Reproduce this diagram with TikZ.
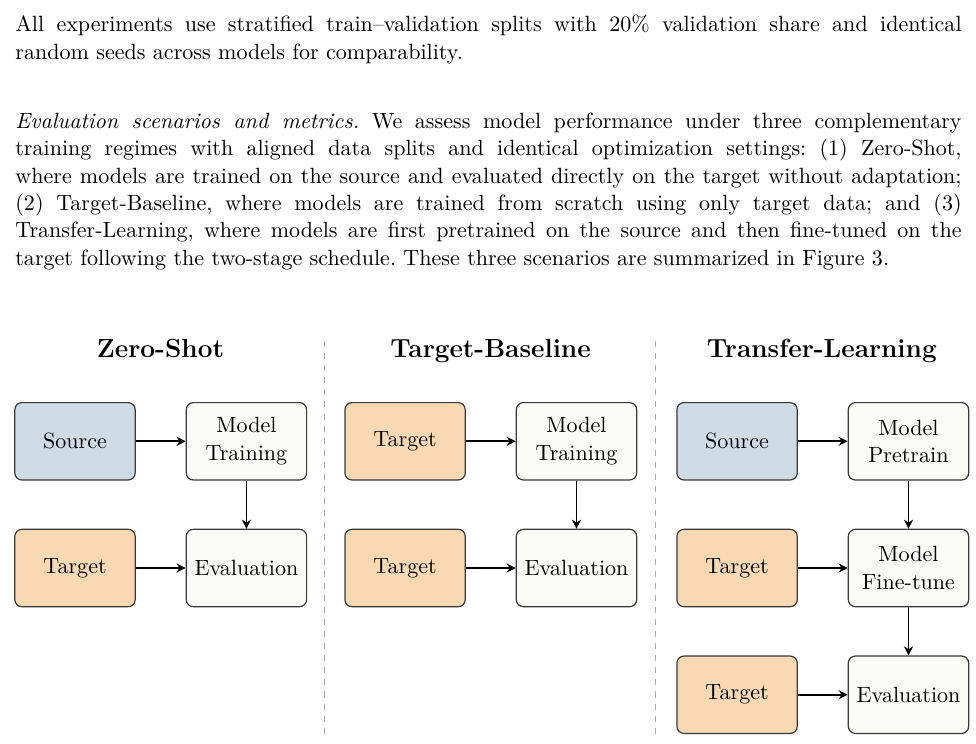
\documentclass[tikz,border=0pt,11pt]{standalone}
\usepackage{fontspec}
\usepackage{xcolor}
\usepackage{tikz}
\usetikzlibrary{
    positioning,
    arrows.meta
}

\definecolor{srcblue}{HTML}{CFDCE6}
\definecolor{tgtorange}{HTML}{F9D9B4}
\definecolor{modelwhite}{HTML}{FAFBF6}
\definecolor{boxline}{HTML}{3A3A3A}

\frenchspacing

\begin{document}
\begin{tikzpicture}[
    node distance=0.84cm and 0.87cm,
    box/.style={
        rectangle,
        rounded corners=3.5pt,
        draw=boxline,
        line width=0.6pt,
        align=center,
        minimum width=2.1cm,
        minimum height=1.35cm,
        inner sep=2pt
    },
    source/.style={box, fill=srcblue},
    target/.style={box, fill=tgtorange},
    model/.style={box, fill=modelwhite},
    heading/.style={font=\fontsize{13}{15}\selectfont\bfseries, anchor=base},
    para/.style={
        anchor=north west,
        inner sep=0pt,
        text width=16.51cm,
        align=justify
    },
    arrow/.style={-{Stealth[length=4.5pt, width=4.5pt]}, line width=0.8pt},
    divider/.style={dashed, gray!65, line width=0.5pt}
]

\useasboundingbox (0,0) rectangle (17.03,-12.97);

% running text
\node[para] (intro) at (0.262,-0.26) {All experiments use stratified train--validation splits with 20\% validation share and identical\linebreak
random seeds across models for comparability.};
\node[para] (scenarios) at (0.262,-1.96) {\textit{Evaluation scenarios and metrics.} We assess model performance under three complementary\linebreak
training regimes with aligned data splits and identical optimization settings: (1) Zero-Shot,\linebreak
where models are trained on the source and evaluated directly on the target without adaptation;\linebreak
(2) Target-Baseline, where models are trained from scratch using only target data; and (3)\linebreak
Transfer-Learning, where models are first pretrained on the source and then fine-tuned on the\linebreak
target following the two-stage schedule. These three scenarios are summarized in Figure 3.};

% column titles
\node[heading] (zeroshot) at (2.80,-6.23) {Zero-Shot};
\node[heading] (baseline) at (8.56,-6.23) {Target-Baseline};
\node[heading] (transfer) at (14.34,-6.23) {Transfer-Learning};

% dashed dividers
\coordinate (div1top) at (5.66,-5.95);
\coordinate (div1bot) at (5.66,-12.85);
\coordinate (div2top) at (11.44,-5.95);
\coordinate (div2bot) at (11.44,-12.85);
\draw[divider] (div1top) -- (div1bot);
\draw[divider] (div2top) -- (div2bot);

% zero-shot
\node[source] (src1) at (1.309,-7.70) {Source};
\node[model, right=of src1] (train1) {Model\\Training};
\node[target, below=of src1] (tgt1) {Target};
\node[model, below=of train1] (eval1) {Evaluation};

\draw[arrow] (src1) -- (train1);
\draw[arrow] (train1) -- (eval1);
\draw[arrow] (tgt1) -- (eval1);

% target baseline
\node[target] (tgt2a) at (7.068,-7.70) {Target};
\node[model, right=of tgt2a] (train2) {Model\\Training};
\node[target, below=of tgt2a] (tgt2b) {Target};
\node[model, below=of train2] (eval2) {Evaluation};

\draw[arrow] (tgt2a) -- (train2);
\draw[arrow] (train2) -- (eval2);
\draw[arrow] (tgt2b) -- (eval2);

% transfer learning
\node[source] (src3) at (12.861,-7.70) {Source};
\node[model, right=of src3] (pre3) {Model\\Pretrain};
\node[target, below=of src3] (tgt3a) {Target};
\node[model, below=of pre3] (tune3) {Model\\Fine-tune};
\node[target, below=of tgt3a] (tgt3b) {Target};
\node[model, below=of tune3] (eval3) {Evaluation};

\draw[arrow] (src3) -- (pre3);
\draw[arrow] (pre3) -- (tune3);
\draw[arrow] (tgt3a) -- (tune3);
\draw[arrow] (tune3) -- (eval3);
\draw[arrow] (tgt3b) -- (eval3);

\end{tikzpicture}
\end{document}
